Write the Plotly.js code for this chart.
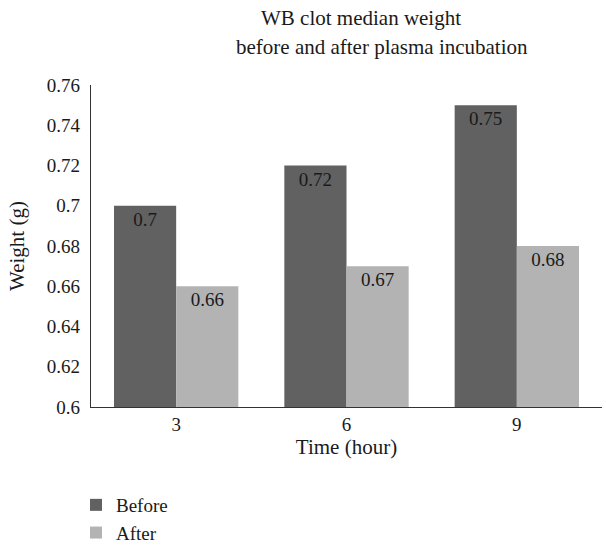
<!DOCTYPE html>
<html>
<head>
<meta charset="utf-8">
<script src="https://cdn.plot.ly/plotly-3.0.1.min.js"></script>
<style>html,body{margin:0;padding:0;background:#fff;}#chart{width:606px;height:552px;}</style>
</head>
<body>
<div id="chart"></div>
<script>
const categories = ['3', '6', '9'];
const beforeValues = [0.70, 0.72, 0.75];
const afterValues = [0.66, 0.67, 0.68];
const beforeLabels = ['0.7', '0.72', '0.75'];
const afterLabels = ['0.66', '0.67', '0.68'];
const seriesNames = ['Before', 'After'];
const yTicks = [0.6, 0.62, 0.64, 0.66, 0.68, 0.7, 0.72, 0.74, 0.76];
const yTickText = ['0.6', '0.62', '0.64', '0.66', '0.68', '0.7', '0.72', '0.74', '0.76'];

const FONT = '"Liberation Serif", "Times New Roman", serif';
const FS = 19;
const TFS = 21;

const traces = [
  {
    type: 'bar', name: seriesNames[0], x: categories, y: beforeValues,
    text: beforeLabels, texttemplate: '%{text}', textposition: 'inside', insidetextanchor: 'end',
    textfont: {family: FONT, size: FS, color: '#1a1a1a'},
    marker: {color: '#606160'}, cliponaxis: false
  },
  {
    type: 'bar', name: seriesNames[1], x: categories, y: afterValues,
    text: afterLabels, texttemplate: '%{text}', textposition: 'inside', insidetextanchor: 'end',
    textfont: {family: FONT, size: FS, color: '#1a1a1a'},
    marker: {color: '#b3b3b3'}, cliponaxis: false
  }
];

const ML = 91, MR = 4, MT = 85, MB = 0, W = 606, H = 552;
const PLOT_BOTTOM = 407;
const plotW = W - ML - MR, paperH = H - MT - MB;
function px2x(px){ return (px - ML) / plotW; }
function py2y(py){ return (H - MB - py) / paperH; }

const layout = {
  width: W, height: H,
  margin: {l: ML, r: MR, t: MT, b: MB},
  paper_bgcolor: '#fff', plot_bgcolor: '#fff',
  font: {family: FONT, size: FS, color: '#1a1a1a'},
  barmode: 'group', bargap: 0.27, bargroupgap: 0,
  showlegend: true,
  legend: {orientation: 'v', x: px2x(76), xanchor: 'left', y: 0, yanchor: 'bottom',
           font: {family: FONT, size: 19, color: '#1a1a1a'}, tracegroupgap: 0, itemwidth: 30},
  xaxis: {
    type: 'category', showline: true, linecolor: '#333', linewidth: 1.2,
    ticks: '', showgrid: false, zeroline: false,
    tickfont: {family: FONT, size: FS},
    title: {text: 'Time (hour)', font: {family: FONT, size: TFS}, standoff: 4}
  },
  yaxis: {
    domain: [py2y(PLOT_BOTTOM), 1],
    range: [0.6, 0.76], tickvals: yTicks, ticktext: yTickText,
    showline: true, linecolor: '#333', linewidth: 1.2, ticks: '',
    showgrid: false, zeroline: false, ticklabelstandoff: 6,
    tickfont: {family: FONT, size: FS},
    title: {text: 'Weight (g)', font: {family: FONT, size: TFS}, standoff: 16}
  },
  annotations: [
    {xref: 'paper', yref: 'paper', x: px2x(361), y: py2y(18), text: 'WB clot median weight', showarrow: false,
     font: {family: FONT, size: TFS}, xanchor: 'center', yanchor: 'middle'},
    {xref: 'paper', yref: 'paper', x: px2x(382), y: py2y(47), text: 'before and after plasma incubation', showarrow: false,
     font: {family: FONT, size: TFS}, xanchor: 'center', yanchor: 'middle'}
  ]
};

Plotly.newPlot('chart', traces, layout, {displayModeBar: false, staticPlot: true});
</script>
</body>
</html>
